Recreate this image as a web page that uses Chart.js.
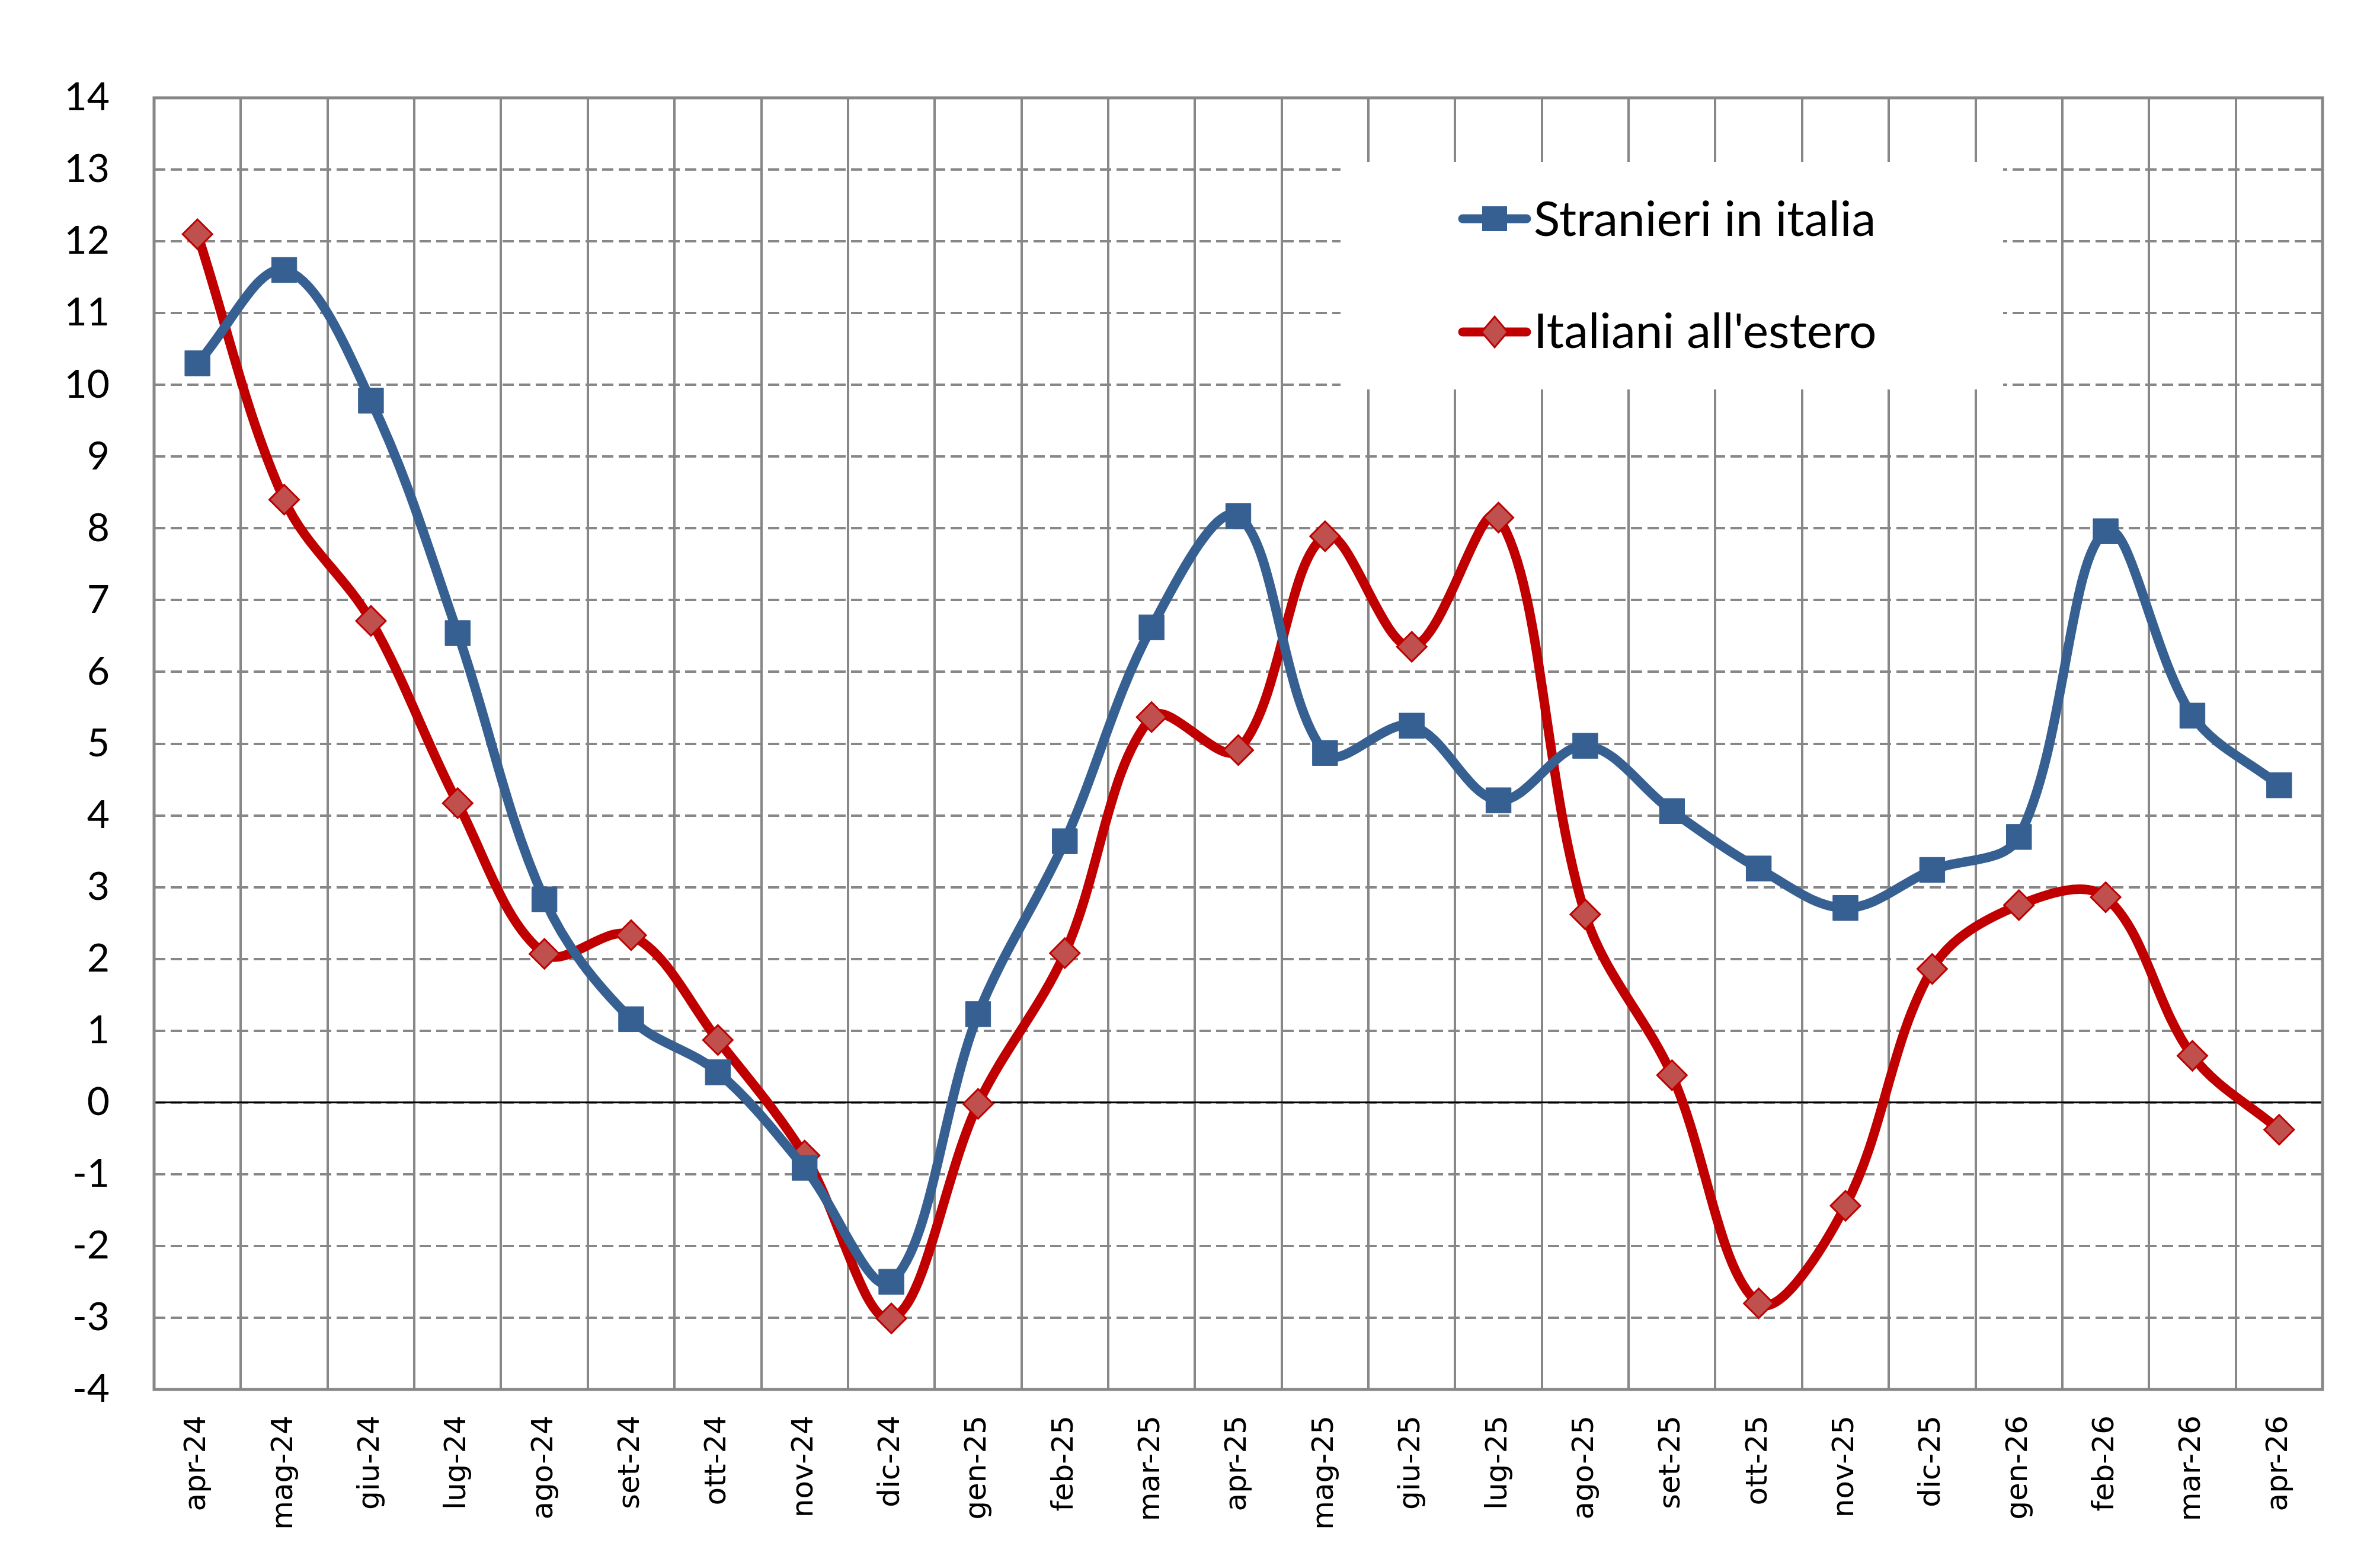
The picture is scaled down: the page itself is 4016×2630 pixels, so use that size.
<!DOCTYPE html>
<html>
<head>
<meta charset="utf-8">
<title>Stranieri in italia - Italiani all'estero</title>
<script src="https://cdn.jsdelivr.net/npm/chart.js@4.4.1/dist/chart.umd.min.js"></script>
<style>
  html, body { margin: 0; padding: 0; background: #fff; }
  #wrap { width: 4016px; height: 2630px; }
</style>
</head>
<body>
<div id="wrap"><canvas id="chart" width="4016" height="2630"></canvas></div>
<script>
// Categories
const months = ['apr-24', 'mag-24', 'giu-24', 'lug-24', 'ago-24', 'set-24', 'ott-24', 'nov-24', 'dic-24',
  'gen-25', 'feb-25', 'mar-25', 'apr-25', 'mag-25', 'giu-25', 'lug-25', 'ago-25', 'set-25', 'ott-25',
  'nov-25', 'dic-25', 'gen-26', 'feb-26', 'mar-26', 'apr-26'];

// Series values
const stranieri = [10.30, 11.60, 9.78, 6.54, 2.83, 1.16, 0.42, -0.91, -2.50,
  1.23, 3.64, 6.62, 8.17, 4.87, 5.25, 4.21, 4.97, 4.06, 3.26,
  2.71, 3.24, 3.70, 7.96, 5.39, 4.42];
const italiani = [12.10, 8.40, 6.71, 4.17, 2.07, 2.33, 0.87, -0.74, -3.01,
  -0.02, 2.08, 5.37, 4.91, 7.89, 6.35, 8.15, 2.62, 0.38, -2.80,
  -1.44, 1.86, 2.75, 2.86, 0.65, -0.38];

// Value axis ticks
const yMin = -4;
const yMax = 14;
const yStep = 1;

const BLUE = '#376092';
const RED = '#C00000';
const RED_FILL = '#C0504D';
const GRID = '#878787';

// plot frame, zero line and the white legend box
const frame = {
  id: 'frame',
  beforeDatasetsDraw(chart) {
    const ctx = chart.ctx;
    const a = chart.chartArea;
    const y0 = chart.scales.y.getPixelForValue(0);

    ctx.save();
    ctx.strokeStyle = '#000';
    ctx.lineWidth = 3;
    ctx.beginPath();
    ctx.moveTo(a.left, y0);
    ctx.lineTo(a.right, y0);
    ctx.stroke();

    ctx.strokeStyle = GRID;
    ctx.lineWidth = 5;
    ctx.strokeRect(a.left, a.top, a.right - a.left, a.bottom - a.top);

    // legend
    ctx.fillStyle = '#fff';
    ctx.fillRect(2262, 273, 1118, 384);

    const rows = [
      { label: 'Stranieri in italia', color: BLUE, shape: 'rect', y: 369, base: 398 },
      { label: "Italiani all'estero", color: RED, shape: 'diamond', y: 560, base: 587 }
    ];
    rows.forEach(r => {
      ctx.strokeStyle = r.color;
      ctx.lineWidth = 15;
      ctx.lineCap = 'round';
      ctx.beginPath();
      ctx.moveTo(2468, r.y);
      ctx.lineTo(2576, r.y);
      ctx.stroke();
      if (r.shape === 'rect') {
        ctx.fillStyle = BLUE;
        ctx.fillRect(2501, r.y - 21, 42, 42);
      } else {
        ctx.fillStyle = RED_FILL;
        ctx.strokeStyle = RED;
        ctx.lineWidth = 3;
        ctx.beginPath();
        ctx.moveTo(2522, r.y - 26);
        ctx.lineTo(2544, r.y);
        ctx.lineTo(2522, r.y + 26);
        ctx.lineTo(2500, r.y);
        ctx.closePath();
        ctx.fill();
        ctx.stroke();
      }
      ctx.fillStyle = '#000';
      ctx.font = '82px Lato';
      ctx.textAlign = 'left';
      ctx.textBaseline = 'alphabetic';
      ctx.fillText(r.label, 2588, r.base);
    });
    ctx.restore();
  }
};

new Chart(document.getElementById('chart'), {
  type: 'line',
  data: {
    labels: months,
    datasets: [
      {
        label: 'Stranieri in italia',
        data: stranieri,
        borderColor: BLUE,
        backgroundColor: BLUE,
        borderWidth: 16,
        tension: 0.35,
        pointStyle: 'rect',
        pointRadius: 30,
        pointBorderWidth: 1,
        pointBorderColor: BLUE,
        pointBackgroundColor: BLUE
      },
      {
        label: "Italiani all'estero",
        data: italiani,
        borderColor: RED,
        backgroundColor: RED_FILL,
        borderWidth: 16,
        tension: 0.35,
        pointStyle: 'rectRot',
        pointRadius: 25,
        pointBorderWidth: 3,
        pointBorderColor: RED,
        pointBackgroundColor: RED_FILL
      }
    ]
  },
  options: {
    responsive: false,
    animation: false,
    devicePixelRatio: 1,
    layout: { padding: { top: 165, right: 97, left: 0, bottom: 0 } },
    plugins: {
      legend: { display: false },
      tooltip: { enabled: false }
    },
    scales: {
      x: {
        offset: true,
        grid: { offset: true, color: GRID, lineWidth: 4, drawTicks: false },
        border: { display: false },
        ticks: {
          autoSkip: false,
          minRotation: 90,
          maxRotation: 90,
          padding: 44,
          color: '#000',
          font: { family: 'DejaVu Sans', size: 50 }
        },
        afterFit(scale) { scale.height = 286; }
      },
      y: {
        min: yMin,
        max: yMax,
        grid: { color: GRID, lineWidth: 4, drawTicks: false },
        border: { display: false, dash: [19, 9] },
        ticks: {
          stepSize: yStep,
          padding: 75,
          color: '#000',
          font: { family: 'Lato', size: 66 }
        },
        afterFit(scale) { scale.width = 260; }
      }
    }
  },
  plugins: [frame]
});
</script>
</body>
</html>
